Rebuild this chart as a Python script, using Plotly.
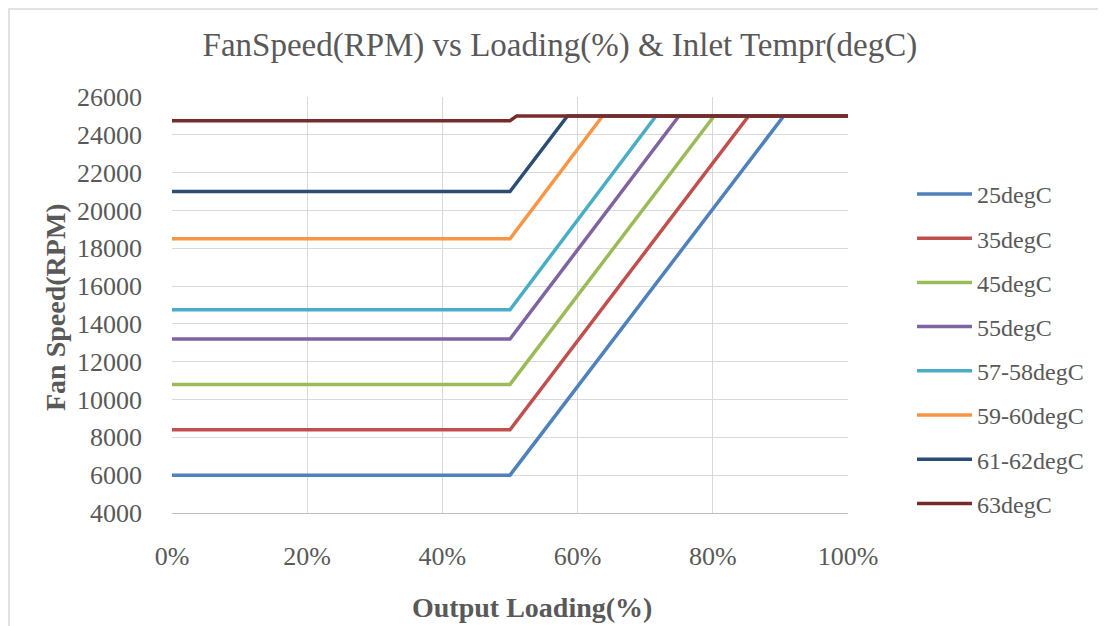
import plotly.graph_objects as go

series_names = ["25degC", "35degC", "45degC", "55degC", "57-58degC", "59-60degC", "61-62degC", "63degC"]
series_colors = ["#4F81BD", "#C0504D", "#9BBB59", "#8064A2", "#4BACC6", "#F79646", "#2C4D75", "#772C2A"]

# breakpoints (loading fraction, fan speed RPM)
loading_25 = [0, 0.50, 0.905, 1.00]
speed_25 = [6000, 6000, 25000, 25000]
loading_35 = [0, 0.50, 0.853, 1.00]
speed_35 = [8400, 8400, 25000, 25000]
loading_45 = [0, 0.50, 0.802, 1.00]
speed_45 = [10800, 10800, 25000, 25000]
loading_55 = [0, 0.50, 0.750, 1.00]
speed_55 = [13200, 13200, 25000, 25000]
loading_57 = [0, 0.50, 0.716, 1.00]
speed_57 = [14750, 14750, 25000, 25000]
loading_59 = [0, 0.50, 0.637, 1.00]
speed_59 = [18500, 18500, 25000, 25000]
loading_61 = [0, 0.50, 0.585, 1.00]
speed_61 = [21000, 21000, 25000, 25000]
loading_63 = [0, 0.50, 0.51, 1.00]
speed_63 = [24750, 24750, 25000, 25000]

all_x = [loading_25, loading_35, loading_45, loading_55, loading_57, loading_59, loading_61, loading_63]
all_y = [speed_25, speed_35, speed_45, speed_55, speed_57, speed_59, speed_61, speed_63]

y_ticks = list(range(4000, 26001, 2000))
x_ticks = [0, 0.2, 0.4, 0.6, 0.8, 1.0]
x_tick_labels = ["0%", "20%", "40%", "60%", "80%", "100%"]

FONT = "Liberation Serif"
TXT = "#595959"

fig = go.Figure()
for name, col, xs, ys in zip(series_names, series_colors, all_x, all_y):
    fig.add_trace(go.Scatter(x=xs, y=ys, mode="lines", name=name, legendgroup=name,
                             line=dict(color=col, width=3.5)))

fig.update_layout(
    width=1106, height=626,
    margin=dict(l=164, r=266, t=89, b=121),
    plot_bgcolor="white", paper_bgcolor="white",
    font=dict(family=FONT, color=TXT, size=26),
    title=dict(text="FanSpeed(RPM) vs Loading(%) & Inlet Tempr(degC)", x=0.499, xanchor="center",
               y=0.941, yanchor="middle", font=dict(size=33, color=TXT, family=FONT)),
    xaxis=dict(range=[0, 1], tickvals=x_ticks, ticktext=x_tick_labels, showgrid=True,
               gridcolor="#D9D9D9", gridwidth=1, zeroline=False, showline=True,
               linecolor="#BFBFBF", linewidth=1, ticks="", ticklabelstandoff=20,
               tickfont=dict(size=26, color=TXT, family=FONT)),
    yaxis=dict(range=[4000, 26000], tickvals=y_ticks, tickformat="d", showgrid=True,
               gridcolor="#D9D9D9", gridwidth=1, zeroline=False, showline=False, ticks="",
               ticklabelstandoff=29, tickfont=dict(size=26, color=TXT, family=FONT)),
    legend=dict(x=1.0947, xanchor="left", y=0.82, yanchor="top", tracegroupgap=10,
                itemwidth=55, font=dict(size=24, color=TXT, family=FONT),
                bgcolor="rgba(0,0,0,0)"),
    showlegend=True,
)
fig.add_annotation(text="<b>Fan Speed(RPM)</b>", xref="paper", yref="paper", x=(55 - 172) / 676,
                   y=(513 - 307) / 416, textangle=-90, showarrow=False,
                   font=dict(size=28, color=TXT, family=FONT), xanchor="center", yanchor="middle")
fig.add_annotation(text="<b>Output Loading(%)</b>", xref="paper", yref="paper", x=(532 - 172) / 676,
                   y=(513 - 607) / 416, showarrow=False, font=dict(size=28, color=TXT, family=FONT),
                   xanchor="center", yanchor="middle")
fig.add_shape(type="rect", xref="paper", yref="paper", x0=(9 - 172) / 676, x1=(1102 - 172) / 676,
              y0=(513 - 640) / 416, y1=(513 - 9) / 416, line=dict(color="#D9D9D9", width=1.5),
              fillcolor="rgba(0,0,0,0)", layer="below")

fig.write_html("out.html")
